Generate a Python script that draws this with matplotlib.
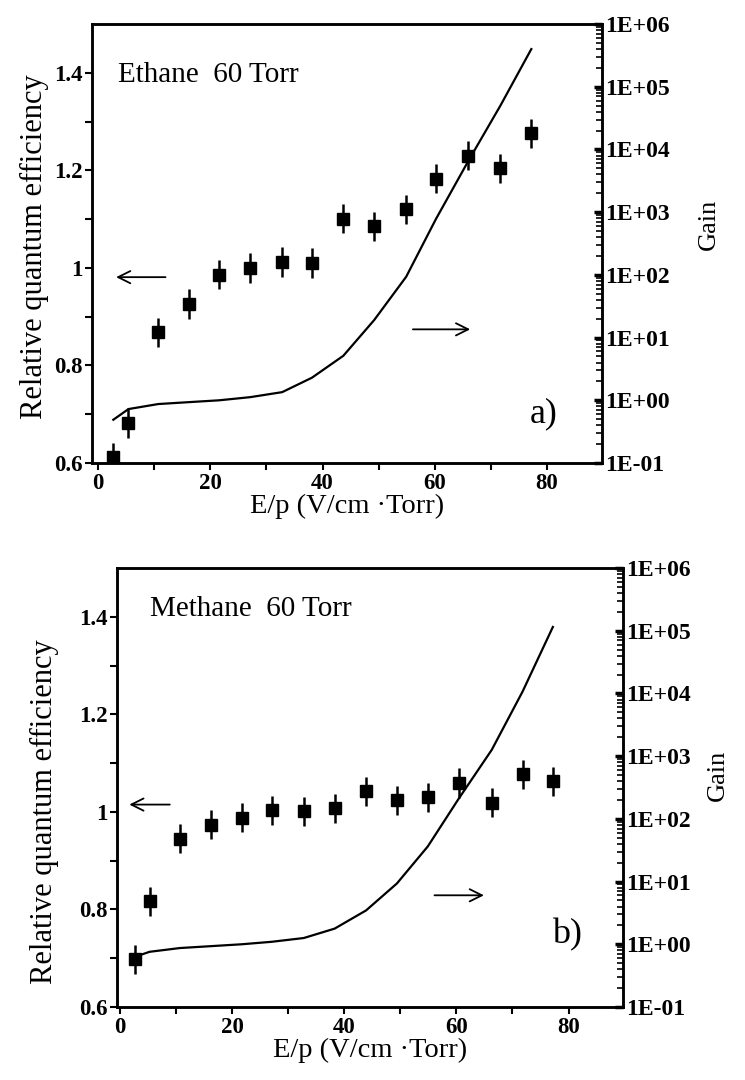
import matplotlib
matplotlib.use('Agg')
import matplotlib.pyplot as plt
from matplotlib.ticker import LogLocator, FixedFormatter, FixedLocator
import numpy as np

plt.rcParams['font.family'] = ['Liberation Serif', 'DejaVu Serif']

# Ethane 60 Torr
ep_eth = [2.7, 5.4, 10.7, 16.1, 21.6, 27.1, 32.8, 38.1, 43.7, 49.2, 54.9, 60.2, 66.0, 71.7, 77.2]
qe_eth = [0.612, 0.682, 0.868, 0.926, 0.986, 1.0, 1.012, 1.01, 1.101, 1.085, 1.12, 1.183, 1.23, 1.204, 1.276]
gain_eth = [10**v for v in [-0.31, -0.14, -0.06, -0.03, 0.0, 0.05, 0.13, 0.36, 0.71, 1.28, 1.97, 2.89, 3.82, 4.7, 5.6]]

# Methane 60 Torr
ep_met = [2.7, 5.3, 10.7, 16.2, 21.7, 27.1, 32.8, 38.3, 43.9, 49.4, 54.9, 60.4, 66.3, 71.8, 77.2]
qe_met = [0.698, 0.817, 0.945, 0.974, 0.988, 1.003, 1.001, 1.007, 1.042, 1.024, 1.03, 1.059, 1.019, 1.077, 1.063]
gain_met = [10**v for v in [-0.2, -0.12, -0.06, -0.03, 0.0, 0.04, 0.10, 0.25, 0.54, 0.97, 1.56, 2.32, 3.1, 4.03, 5.06]]

qe_err = 0.03
gain_ticks = [1e-1, 1e0, 1e1, 1e2, 1e3, 1e4, 1e5, 1e6]
gain_labels = ['1E-01', '1E+00', '1E+01', '1E+02', '1E+03', '1E+04', '1E+05', '1E+06']

fig = plt.figure(figsize=(7.45, 10.8), dpi=100)


def panel(rect, xlim, ep, qe, gain, title, title_xy, tag, tag_xy, larrow, rarrow, ylab_xy, gain_xy):
    ax = fig.add_axes(rect)
    ax.errorbar(ep, qe, yerr=qe_err, fmt='s', color='black', ms=8.5, elinewidth=1.8, capsize=0)
    ax.set_xlim(*xlim)
    ax.set_ylim(0.6, 1.5)
    ax.xaxis.set_major_locator(FixedLocator([0, 20, 40, 60, 80]))
    ax.xaxis.set_minor_locator(FixedLocator([10, 30, 50, 70]))
    ax.yaxis.set_major_locator(FixedLocator([0.6, 0.8, 1.0, 1.2, 1.4]))
    ax.yaxis.set_major_formatter(FixedFormatter(['0.6', '0.8', '1', '1.2', '1.4']))
    ax.yaxis.set_minor_locator(FixedLocator([0.7, 0.9, 1.1, 1.3]))
    ax.tick_params(which='both', direction='out', length=5, width=1.5, top=False, right=False, pad=2)
    for lab in ax.get_xticklabels() + ax.get_yticklabels():
        lab.set_fontsize(16.5)
        lab.set_fontweight('bold')
    for s in ax.spines.values():
        s.set_linewidth(1.8)
    ax.set_ylabel('Relative quantum efficiency', fontsize=22)
    ax.yaxis.set_label_coords(*ylab_xy)
    ax.set_xlabel('E/p (V/cm \u00b7Torr)', fontsize=20.5, labelpad=0)
    ax.text(title_xy[0], title_xy[1], title, fontsize=21, va='center', ha='left')
    ax.text(tag_xy[0], tag_xy[1], tag, fontsize=26, va='center', ha='left')
    ax.annotate('', xy=larrow[1], xytext=larrow[0],
                arrowprops=dict(arrowstyle='->', lw=1.3, color='black', mutation_scale=22))
    ax.annotate('', xy=rarrow[1], xytext=rarrow[0],
                arrowprops=dict(arrowstyle='->', lw=1.3, color='black', mutation_scale=22))

    ax2 = ax.twinx()
    ax2.plot(ep, gain, color='black', lw=1.6)
    ax2.set_yscale('log')
    ax2.set_ylim(1e-1, 1e6)
    ax2.yaxis.set_major_locator(FixedLocator(gain_ticks))
    ax2.yaxis.set_major_formatter(FixedFormatter(gain_labels))
    ax2.yaxis.set_minor_locator(LogLocator(base=10, subs=np.arange(2, 10)))
    ax2.yaxis.set_minor_formatter(FixedFormatter([]))
    ax2.tick_params(which='major', direction='in', length=6, width=2.5, pad=2)
    ax2.tick_params(which='minor', direction='in', length=4, width=1.2)
    for lab in ax2.get_yticklabels():
        lab.set_fontsize(17)
        lab.set_fontweight('bold')
    ax2.set_ylabel('Gain', fontsize=19)
    ax2.yaxis.set_label_coords(*gain_xy)
    for s in ax2.spines.values():
        s.set_linewidth(1.8)
    return ax


panel([92 / 745, 1 - 463 / 1080, 510 / 745, 439 / 1080], (-1.1, 89.8),
      ep_eth, qe_eth, gain_eth, 'Ethane  60 Torr', (3.6, 1.395), 'a)', (77.0, 0.70),
      ((12.5, 0.981), (2.7, 0.981)), ((55.6, 0.874), (66.8, 0.874)),
      (-0.085, 0.494), (1.188, 0.544))

panel([117 / 745, 1 - 1007 / 1080, 506 / 745, 439 / 1080], (-0.5, 89.7),
      ep_met, qe_met, gain_met, 'Methane  60 Torr', (5.3, 1.416), 'b)', (77.0, 0.749),
      ((9.4, 1.015), (1.2, 1.015)), ((55.6, 0.829), (65.4, 0.829)),
      (-0.114, 0.446), (1.166, 0.528))

fig.savefig('out.png', dpi=100)
